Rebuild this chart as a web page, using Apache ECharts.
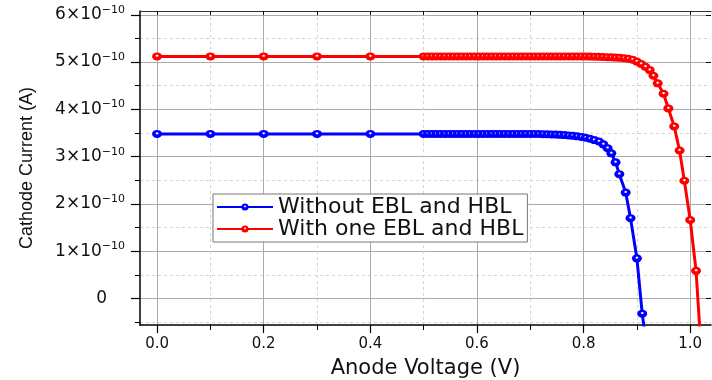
<!DOCTYPE html>
<html>
<head>
<meta charset="utf-8">
<script src="https://cdn.jsdelivr.net/npm/echarts@6/dist/echarts.min.js"></script>
<style>
html, body { margin: 0; padding: 0; background: #fff; }
#main { width: 712px; height: 380px; }
</style>
</head>
<body>
<div id="main"></div>
<script>
// Without EBL and HBL (current in units of 1e-10 A)
var blueVoltage = [0, 0.1, 0.2, 0.3, 0.4,
    0.5, 0.508, 0.516, 0.524, 0.532, 0.54, 0.548, 0.556, 0.564, 0.572, 0.58, 0.588, 0.596,
    0.604, 0.612, 0.62, 0.628, 0.636, 0.644, 0.652, 0.66, 0.668, 0.676, 0.684, 0.692, 0.7,
    0.708, 0.716, 0.724, 0.732, 0.74, 0.748, 0.756, 0.764, 0.772, 0.78, 0.788, 0.796, 0.804, 0.812, 0.82,
    0.829, 0.837, 0.845, 0.852, 0.86, 0.867, 0.879, 0.888, 0.9, 0.91, 0.918];
var blueCurrent = [3.48, 3.48, 3.48, 3.48, 3.48,
    3.48, 3.48, 3.48, 3.48, 3.48, 3.48, 3.48, 3.48, 3.48, 3.48, 3.48, 3.48, 3.48,
    3.48, 3.48, 3.48, 3.48, 3.48, 3.48, 3.48, 3.48, 3.48, 3.48, 3.48, 3.48, 3.48,
    3.48, 3.478, 3.476, 3.474, 3.471, 3.467, 3.462, 3.456, 3.449, 3.44, 3.43, 3.417, 3.4, 3.378, 3.35,
    3.32, 3.26, 3.18, 3.07, 2.88, 2.63, 2.24, 1.7, 0.85, -0.32, -1.0];

// With one EBL and HBL
var redVoltage = [0, 0.1, 0.2, 0.3, 0.4,
    0.5, 0.508, 0.516, 0.524, 0.532, 0.54, 0.548, 0.556, 0.564, 0.572, 0.58, 0.588, 0.596,
    0.604, 0.612, 0.62, 0.628, 0.636, 0.644, 0.652, 0.66, 0.668, 0.676, 0.684, 0.692, 0.7,
    0.708, 0.716, 0.724, 0.732, 0.74, 0.748, 0.756, 0.764, 0.772, 0.78, 0.788, 0.796,
    0.804, 0.812, 0.82, 0.828, 0.836, 0.844, 0.852, 0.86, 0.868,
    0.876, 0.884, 0.892, 0.9, 0.908, 0.916, 0.924, 0.931, 0.939, 0.95, 0.959, 0.97, 0.98, 0.989, 1.0, 1.011, 1.02];
var redCurrent = [5.12, 5.12, 5.12, 5.12, 5.12,
    5.12, 5.12, 5.12, 5.12, 5.12, 5.12, 5.12, 5.12, 5.12, 5.12, 5.12, 5.12, 5.12,
    5.12, 5.12, 5.12, 5.12, 5.12, 5.12, 5.12, 5.12, 5.12, 5.12, 5.12, 5.12, 5.12,
    5.12, 5.12, 5.12, 5.12, 5.12, 5.12, 5.12, 5.12, 5.12, 5.12, 5.12, 5.12,
    5.118, 5.116, 5.114, 5.111, 5.108, 5.104, 5.1, 5.095, 5.09,
    5.083, 5.07, 5.05, 5.01, 4.96, 4.9, 4.83, 4.71, 4.55, 4.33, 4.02, 3.64, 3.13, 2.49, 1.66, 0.585, -1.0];

var seriesNames = ['Without EBL and HBL', 'With one EBL and HBL'];

// tick positions
var xMajor = [0, 0.2, 0.4, 0.6, 0.8, 1.0];
var xMinor = [0.1, 0.3, 0.5, 0.7, 0.9];
var xAll = [0, 0.1, 0.2, 0.3, 0.4, 0.5, 0.6, 0.7, 0.8, 0.9, 1.0];
var yMajor = [0, 1, 2, 3, 4, 5, 6];
var yMinor = [-0.5, 0.5, 1.5, 2.5, 3.5, 4.5, 5.5];

var xMin = -0.032, xMax = 1.039;
var yMin = -0.56, yMax = 6.08;

function pairs(xs, ys) {
    var out = [];
    for (var i = 0; i < xs.length; i++) out.push([xs[i], ys[i]]);
    return out;
}

// shiny ball marker: colour with a small white highlight
function ball(c) {
    return {
        type: 'radial', x: 0.5, y: 0.42, r: 0.5,
        colorStops: [
            { offset: 0, color: '#ffffff' },
            { offset: 0.12, color: '#ffffff' },
            { offset: 0.38, color: c },
            { offset: 1, color: c }
        ]
    };
}

var chart = echarts.init(document.getElementById('main'));

// both grids cover the same box; the second one only carries minor ticks / dashed grid
var gridBox = { left: 140, right: 1, top: 11, bottom: 55, outerBoundsMode: 'none', containLabel: false };

var option = {
    backgroundColor: '#fff',
    animation: false,
    grid: [
        Object.assign({}, gridBox),
        Object.assign({}, gridBox)
    ],
    legend: {
        orient: 'vertical',
        left: 213,
        top: 194,
        itemWidth: 56,
        itemHeight: 9,
        itemGap: 0,
        padding: [2, 4, 2, 3],
        backgroundColor: '#fff',
        borderColor: '#777',
        borderWidth: 1,
        textStyle: { fontFamily: 'DejaVu Sans', fontSize: 22, color: '#111', lineHeight: 20 },
        data: seriesNames
    },
    xAxis: [
        {   // main bottom axis
            type: 'value', gridIndex: 0, position: 'bottom', min: xMin, max: xMax,
            axisLine: { show: true, onZero: false, lineStyle: { color: '#000', width: 1.5 } },
            axisTick: { show: true, customValues: xMajor, length: 8, lineStyle: { color: '#000', width: 1.2 } },
            axisLabel: {
                customValues: xMajor, margin: 12,
                formatter: function (v) { return v.toFixed(1); },
                fontFamily: 'DejaVu Sans', fontSize: 15, color: '#111'
            },
            splitLine: { show: true, lineStyle: { color: '#aaa', width: 1 } },
            name: 'Anode Voltage (V)', nameLocation: 'middle', nameGap: 33,
            nameTextStyle: { fontFamily: 'DejaVu Sans', fontSize: 21, color: '#111' }
        },
        {   // top frame
            type: 'value', gridIndex: 0, position: 'top', min: xMin, max: xMax,
            axisLine: { show: true, onZero: false, lineStyle: { color: '#333', width: 1 } },
            axisTick: { show: true, inside: true, customValues: xAll, length: 4, lineStyle: { color: '#000' } },
            axisLabel: { show: false },
            splitLine: { show: false }
        },
        {   // minor ticks + dashed grid
            type: 'value', gridIndex: 1, position: 'bottom', min: xMin, max: xMax,
            axisLine: { show: false, onZero: false },
            axisTick: { show: true, customValues: xMinor, length: 5, lineStyle: { color: '#000' } },
            axisLabel: { show: false },
            splitLine: { show: true, lineStyle: { color: '#d4d4d4', width: 1, type: [3, 3] } }
        }
    ],
    yAxis: [
        {   // main left axis
            type: 'value', gridIndex: 0, position: 'left', min: yMin, max: yMax,
            axisLine: { show: true, onZero: false, lineStyle: { color: '#000', width: 1.5 } },
            axisTick: { show: true, customValues: yMajor, length: 9, lineStyle: { color: '#000', width: 1.2 } },
            axisLabel: {
                customValues: yMajor, margin: 15,
                formatter: function (v) {
                    if (v === 0) return '{z|0}';
                    return '{m|' + v + '×10}{s|−10}';
                },
                rich: {
                    m: { fontFamily: 'DejaVu Sans', fontSize: 17, color: '#111' },
                    s: { fontFamily: 'DejaVu Sans', fontSize: 11, color: '#111', padding: [0, 0, 10, 0] },
                    z: { fontFamily: 'DejaVu Sans', fontSize: 17, color: '#111', padding: [0, 18, 0, 0] }
                }
            },
            splitLine: { show: true, lineStyle: { color: '#aaa', width: 1 } },
            name: 'Cathode Current (A)', nameLocation: 'middle', nameGap: 104, nameRotate: 90,
            nameTextStyle: { fontFamily: 'Liberation Sans', fontSize: 18, color: '#111' }
        },
        {   // right frame
            type: 'value', gridIndex: 0, position: 'right', min: yMin, max: yMax,
            axisLine: { show: false, onZero: false },
            axisTick: { show: true, inside: true, customValues: yMajor, length: 5, lineStyle: { color: '#000' } },
            axisLabel: { show: false },
            splitLine: { show: false }
        },
        {   // minor ticks + dashed grid
            type: 'value', gridIndex: 1, position: 'left', min: yMin, max: yMax,
            axisLine: { show: false, onZero: false },
            axisTick: { show: true, customValues: yMinor, length: 5, lineStyle: { color: '#000' } },
            axisLabel: { show: false },
            splitLine: { show: true, lineStyle: { color: '#d4d4d4', width: 1, type: [3, 3] } }
        }
    ],
    series: [
        {
            name: seriesNames[0],
            type: 'line',
            xAxisIndex: 0, yAxisIndex: 0,
            data: pairs(blueVoltage, blueCurrent),
            symbol: 'circle',
            symbolSize: [10, 8],
            lineStyle: { color: '#0000ff', width: 3 },
            itemStyle: { color: ball('#0000ff'), borderWidth: 0 },
            emphasis: { disabled: true },
            z: 3
        },
        {
            name: seriesNames[1],
            type: 'line',
            xAxisIndex: 0, yAxisIndex: 0,
            data: pairs(redVoltage, redCurrent),
            symbol: 'circle',
            symbolSize: [10, 8],
            lineStyle: { color: '#ff0000', width: 3 },
            itemStyle: { color: ball('#ff0000'), borderWidth: 0 },
            emphasis: { disabled: true },
            z: 3
        }
    ]
};

chart.setOption(option);
</script>
</body>
</html>
